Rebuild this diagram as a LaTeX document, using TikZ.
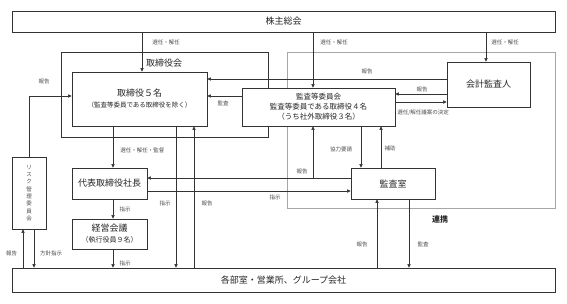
\documentclass[tikz,border=0pt]{standalone}
\usepackage{fontspec}
\setmainfont{Noto Sans CJK JP}
\usetikzlibrary{positioning, arrows.meta, calc}

\begin{document}
\begin{tikzpicture}[
  x=1pt, y=-1pt, line width=0.6pt,
  orgbox/.style={draw=black!80, fill=white, align=center, inner sep=0pt,
    font=\fontsize{9}{11}\selectfont, text=black!85},
  frame/.style={draw=black!80, inner sep=0pt},
  liaison/.style={draw=black!35, inner sep=0pt},
  tag/.style={inner sep=0pt, font=\fontsize{5.5}{6.5}\selectfont, text=black!70},
  flow/.style={-{Triangle[length=3.6pt,width=3.2pt]}, draw=black!80}
]
\useasboundingbox (0,0) rectangle (567,303);

% frames behind
\node[frame, minimum width=207pt, minimum height=85pt] (board) at (164.5,94.5) {};
\node[font=\fontsize{9}{11}\selectfont, text=black!85] (boardlbl) at (164,63) {取締役会};
\node[liaison, minimum width=268pt, minimum height=156pt] (renkei) at (421,130) {};
\node[font=\bfseries\fontsize{8}{10}\selectfont, text=black!85] (renkeilbl) at (440,219) {連携};

% boxes
\node[orgbox, minimum width=543pt, minimum height=21pt] (kabu) at (283.5,21.5) {株主総会};
\node[orgbox, minimum width=135pt, minimum height=54pt] (dir) at (139.5,99)
  {取締役５名\\{\fontsize{6.5}{8}\selectfont（監査等委員である取締役を除く）}};
\node[orgbox, minimum width=153pt, minimum height=38pt, font=\fontsize{7.5}{10}\selectfont] (audcom) at (318.5,107)
  {監査等委員会\\監査等委員である取締役４名\\（うち社外取締役３名）};
\node[orgbox, minimum width=83pt, minimum height=45pt] (acct) at (488.5,84.5) {会計監査人};
\node[orgbox, minimum width=75pt, minimum height=31pt] (ceo) at (109.5,183.5) {代表取締役社長};
\node[orgbox, minimum width=75pt, minimum height=30pt] (mgmt) at (109.5,234)
  {経営会議\\{\fontsize{7}{9}\selectfont（執行役員９名）}};
\node[orgbox, minimum width=84pt, minimum height=31pt] (auditoff) at (393,183.5) {監査室};
\node[orgbox, minimum width=34pt, minimum height=72pt, font=\fontsize{5.5}{7.3}\selectfont, text=black!70] (risk) at (29,193)
  {リ\\ス\\ク\\管\\理\\委\\員\\会};
\node[orgbox, minimum width=543pt, minimum height=24pt] (dept) at (283.5,280) {各部室・営業所、グループ会社};

% columns and rows of the connectors
\coordinate (xdir) at (142,0);
\coordinate (xaud) at (313,0);
\coordinate (xacct) at (486,0);
\coordinate (xceo) at (113,0);
\coordinate (xins) at (176,0);
\coordinate (xrep) at (194,0);
\coordinate (xreq) at (361,0);
\coordinate (xsup) at (381,0);
\coordinate (xoffrep) at (377,0);
\coordinate (xchk) at (409,0);
\coordinate (xrisk1) at (23,0);
\coordinate (xrisk2) at (34,0);
\coordinate (yrep) at (0,79);
\coordinate (yrep2) at (0,94);
\coordinate (ysel) at (0,102);
\coordinate (yaud) at (0,96);
\coordinate (yoff) at (0,178);
\coordinate (yins) at (0,191);

% shareholders
\draw[flow] (kabu.south -| xdir) -- (dir.north -| xdir);
\draw[flow] (kabu.south -| xaud) -- (audcom.north -| xaud);
\draw[flow] (kabu.south -| xacct) -- (acct.north -| xacct);
\node[tag] (l1) at (166,42) {選任・解任};
\node[tag] (l2) at (334,42) {選任・解任};
\node[tag] (l3) at (505,42) {選任・解任};

% auditor and committee
\draw[flow] (acct.west |- yrep) -- (dir.east |- yrep);
\draw[flow] (acct.west |- yrep2) -- (audcom.east |- yrep2);
\draw[flow] (audcom.east |- ysel) -- (acct.west |- ysel);
\draw[flow] (audcom.west |- yaud) -- (dir.east |- yaud);
\node[tag] (l4) at (367,71) {報告};
\node[tag] (l5) at (422,89) {報告};
\node[tag, anchor=west] (l6) at (397,113) {選任/解任議案の決定};
\node[tag] (l7) at (223,103) {監査};

% risk committee
\draw[flow] (risk.north) |- (dir.west |- yaud);
\draw[flow] (dept.north -| xrisk1) -- (risk.south -| xrisk1);
\draw[flow] (risk.south -| xrisk2) -- (dept.north -| xrisk2);
\node[tag] (l8) at (44,81) {報告};
\node[tag] (l9) at (11.5,253) {報告};
\node[tag] (l10) at (51,253) {方針指示};

% executive line
\draw[flow] (dir.south -| xceo) -- (ceo.north -| xceo);
\draw[flow] (ceo.south -| xceo) -- (mgmt.north -| xceo);
\draw[flow] (mgmt.south -| xceo) -- (dept.north -| xceo);
\draw[flow] (dir.south -| xins) -- (dept.north -| xins);
\draw[flow] (dept.north -| xrep) -- (dir.south -| xrep);
\node[tag, anchor=west] (l11) at (120,150) {選任・解任・監督};
\node[tag] (l12) at (125,209) {指示};
\node[tag] (l13) at (125,263) {指示};
\node[tag] (l14) at (165,203) {指示};
\node[tag] (l15) at (207,203) {報告};

% audit office
\draw[flow] (auditoff.west |- yoff) -- (ceo.east |- yoff);
\draw[flow] (xaud |- yoff) -- (audcom.south -| xaud);
\draw[flow] (ceo.east |- yins) -- (auditoff.west |- yins);
\draw[flow] (audcom.south -| xreq) -- (auditoff.north -| xreq);
\draw[flow] (auditoff.north -| xsup) -- (audcom.south -| xsup);
\draw[flow] (dept.north -| xoffrep) -- (auditoff.south -| xoffrep);
\draw[flow] (auditoff.south -| xchk) -- (dept.north -| xchk);
\node[tag] (l16) at (302,171) {報告};
\node[tag] (l17) at (275,197) {指示};
\node[tag] (l18) at (341,149) {協力要請};
\node[tag] (l19) at (390,148) {補助};
\node[tag] (l20) at (362,244) {報告};
\node[tag] (l21) at (423,244) {監査};

\end{tikzpicture}
\end{document}
